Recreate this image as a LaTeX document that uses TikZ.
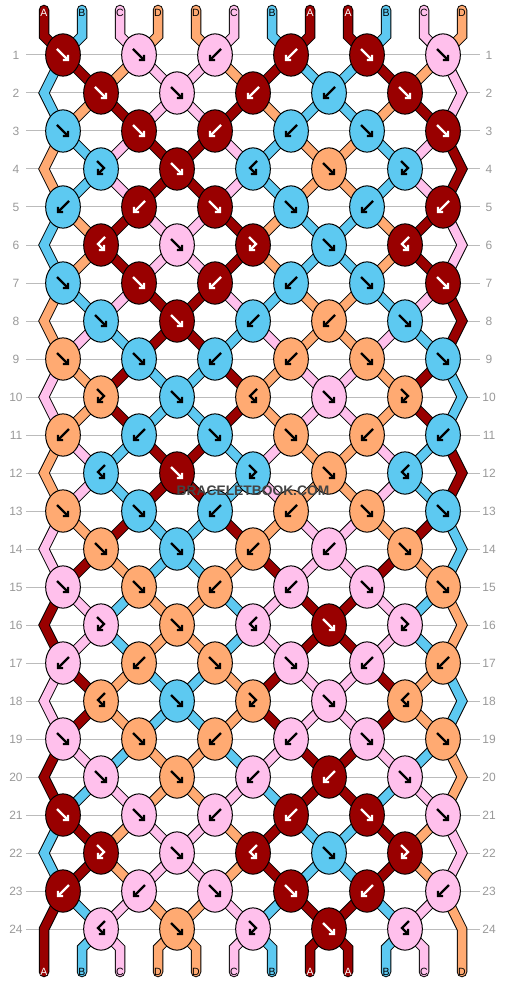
\documentclass[tikz,border=0pt]{standalone}
\usepackage{fontspec}
\setmainfont{Liberation Sans}
\usetikzlibrary{shapes.geometric,arrows.meta,backgrounds}

\definecolor{colA}{HTML}{990000}
\definecolor{colB}{HTML}{5DC9F1}
\definecolor{colC}{HTML}{FFC0EC}
\definecolor{colD}{HTML}{FFAA72}
\colorlet{glyA}{white}
\colorlet{glyB}{black}
\colorlet{glyC}{black}
\colorlet{glyD}{black}
\definecolor{rowgray}{HTML}{BBBBBB}
\definecolor{numgray}{HTML}{999999}
\definecolor{wmgray}{HTML}{444444}

% arrow glyphs inside the knots
\newcommand\knotf[2]{\draw[glyph,#1] ([shift={(-6,-6)}]#2.center) -- ++(12,12);}
\newcommand\knotb[2]{\draw[glyph,#1] ([shift={(6,-6)}]#2.center) -- ++(-12,12);}
\newcommand\knotfb[2]{\draw[glyph,#1] ([shift={(-4,-8)}]#2.center) -- ++(7,7) -- ++(-7,7);}
\newcommand\knotbf[2]{\draw[glyph,#1] ([shift={(4,-8)}]#2.center) -- ++(-7,7) -- ++(7,7);}

\begin{document}
\begin{tikzpicture}[x=1pt, y=-1pt,
    knot/.style={ellipse, draw=black, line width=1pt, minimum width=34.7pt, minimum height=42.3pt, inner sep=0pt},
    glyph/.style={line width=2.2pt, -{Straight Barb[length=3.5pt,width=7.5pt]}},
    strand/.style={draw=black, line width=1pt, double distance=8.5pt, line cap=round},
    rowline/.style={draw=rowgray, line width=1pt},
    rownum/.style={text=numgray, font=\fontsize{12}{12}\selectfont},
    tag/.style={font=\fontsize{10.5}{11}\selectfont, inner sep=0pt}]

    \useasboundingbox (0,0) rectangle (506,984);

    % the knots, row by row
    \foreach \r/\knots in {
        1/{A/f,C/f,C/b,A/b,A/f,C/f},
        2/{A/f,C/f,A/b,B/b,A/f},
        3/{B/f,A/f,A/b,B/b,B/f,A/f},
        4/{B/fb,A/f,B/bf,D/f,B/fb},
        5/{B/b,A/b,A/f,B/f,B/b,A/b},
        6/{A/bf,C/f,A/fb,B/f,A/bf},
        7/{B/f,A/f,A/b,B/b,B/f,A/f},
        8/{B/f,A/f,B/b,D/b,B/f},
        9/{D/f,B/f,B/b,D/b,D/f,B/f},
        10/{D/fb,B/f,D/bf,C/f,D/fb},
        11/{D/b,B/b,B/f,D/f,D/b,B/b},
        12/{B/bf,A/f,B/fb,D/f,B/bf},
        13/{D/f,B/f,B/b,D/b,D/f,B/f},
        14/{D/f,B/f,D/b,C/b,D/f},
        15/{C/f,D/f,D/b,C/b,C/f,D/f},
        16/{C/fb,D/f,C/bf,A/f,C/fb},
        17/{C/b,D/b,D/f,C/f,C/b,D/b},
        18/{D/bf,B/f,D/fb,C/f,D/bf},
        19/{C/f,D/f,D/b,C/b,C/f,D/f},
        20/{C/f,D/f,C/b,A/b,C/f},
        21/{A/f,C/f,C/b,A/b,A/f,C/f},
        22/{A/fb,C/f,A/bf,B/f,A/fb},
        23/{A/b,C/b,C/f,A/f,A/b,C/b},
        24/{C/bf,D/f,C/fb,A/f,C/bf}} {
        \pgfmathsetmacro{\yy}{55+38*(\r-1)}
        \pgfmathsetmacro{\xo}{isodd(\r) ? 63 : 101}
        \foreach \c/\t [count=\k] in \knots {
            \node[knot, fill=col\c] (k\r-\k) at ({\xo+76*(\k-1)}, \yy) {};
            \csname knot\t\endcsname{gly\c}{k\r-\k}
        }
        \node[rownum] (nl\r) at (16,\yy) {\r};
        \node[rownum] (nr\r) at (489,\yy) {\r};
    }

    % turning points at the sides, the top and the bottom
    \foreach \r in {2,4,...,24} {
        \coordinate (el\r) at (44, {55+38*(\r-1)});
        \coordinate (er\r) at (462, {55+38*(\r-1)});
    }
    \foreach \c [count=\i] in {A,B,C,D,D,C,B,A,A,B,C,D} {
        \pgfmathsetmacro{\xx}{44+38*(\i-1)}
        \coordinate (top\i) at (\xx,10);
        \coordinate (bend\i) at (\xx,36);
        \coordinate (low\i) at (\xx,948);
        \coordinate (bot\i) at (\xx,972);
        \node[tag, text=gly\c] (lt\i) at (\xx,13) {\c};
        \node[tag, text=gly\c] (lb\i) at (\xx,972) {\c};
    }

    \begin{scope}[on background layer]
        \foreach \r in {1,...,24} {
            \pgfmathsetmacro{\yy}{55+38*(\r-1)}
            \draw[rowline] (26,\yy) -- (480,\yy);
        }

        % strands into the first row
        \foreach \c [count=\i] in {A,B,C,D,D,C,B,A,A,B,C,D} {
            \pgfmathtruncatemacro{\ka}{(\i+1)/2}
            \draw[strand, double=col\c] (top\i) -- (bend\i) -- (k1-\ka.center);
        }

        % strands between the rows
        \foreach \r/\st in {
            1/{B,A,D,C,C,D,A,B,B,A,D,C},
            2/{B,D,A,C,C,A,D,B,B,D,A,C},
            3/{D,B,C,A,A,C,B,D,D,B,C,A},
            4/{D,B,C,A,A,C,B,D,D,B,C,A},
            5/{B,D,A,C,C,A,D,B,B,D,A,C},
            6/{B,D,A,C,C,A,D,B,B,D,A,C},
            7/{D,B,C,A,A,C,B,D,D,B,C,A},
            8/{D,C,B,A,A,B,C,D,D,C,B,A},
            9/{C,D,A,B,B,A,D,C,C,D,A,B},
            10/{C,D,A,B,B,A,D,C,C,D,A,B},
            11/{D,C,B,A,A,B,C,D,D,C,B,A},
            12/{D,C,B,A,A,B,C,D,D,C,B,A},
            13/{C,D,A,B,B,A,D,C,C,D,A,B},
            14/{C,A,D,B,B,D,A,C,C,A,D,B},
            15/{A,C,B,D,D,B,C,A,A,C,B,D},
            16/{A,C,B,D,D,B,C,A,A,C,B,D},
            17/{C,A,D,B,B,D,A,C,C,A,D,B},
            18/{C,A,D,B,B,D,A,C,C,A,D,B},
            19/{A,C,B,D,D,B,C,A,A,C,B,D},
            20/{A,B,C,D,D,C,B,A,A,B,C,D},
            21/{B,A,D,C,C,D,A,B,B,A,D,C},
            22/{B,A,D,C,C,D,A,B,B,A,D,C},
            23/{A,B,C,D,D,C,B,A,A,B,C,D}} {
            \pgfmathtruncatemacro{\n}{\r+1}
            \pgfmathtruncatemacro{\m}{\r+2}
            \foreach \c [count=\i] in \st {
                \pgfmathtruncatemacro{\ka}{(\i+1)/2}
                \pgfmathtruncatemacro{\kb}{\i/2}
                \ifodd\r
                    \ifnum\i=1 \def\side{el}\else\ifnum\i=12 \def\side{er}\else\def\side{}\fi\fi
                    \ifx\side\empty
                        \draw[strand, double=col\c] (k\r-\ka.center) -- (k\n-\kb.center);
                    \else
                        \ifnum\r=23 \def\tgt{bot\i}\else\def\tgt{k\m-\ka.center}\fi
                        \draw[strand, double=col\c] (k\r-\ka.center) -- (\side\n) -- (\tgt);
                    \fi
                \else
                    \ifnum\i=1 \else\ifnum\i=12 \else
                        \draw[strand, double=col\c] (k\r-\kb.center) -- (k\n-\ka.center);
                    \fi\fi
                \fi
            }
        }

        % strands out of the last row
        \foreach \c [count=\i] in {A,B,C,D,D,C,B,A,A,B,C,D} {
            \pgfmathtruncatemacro{\kb}{\i/2}
            \ifnum\i=1 \else\ifnum\i=12 \else
                \draw[strand, double=col\c] (k24-\kb.center) -- (low\i) -- (bot\i);
            \fi\fi
        }
    \end{scope}

    \node[font=\fontsize{13.8}{14}\selectfont\bfseries, text=wmgray] (mark) at (253,491) {BRACELETBOOK.COM};

\end{tikzpicture}
\end{document}
